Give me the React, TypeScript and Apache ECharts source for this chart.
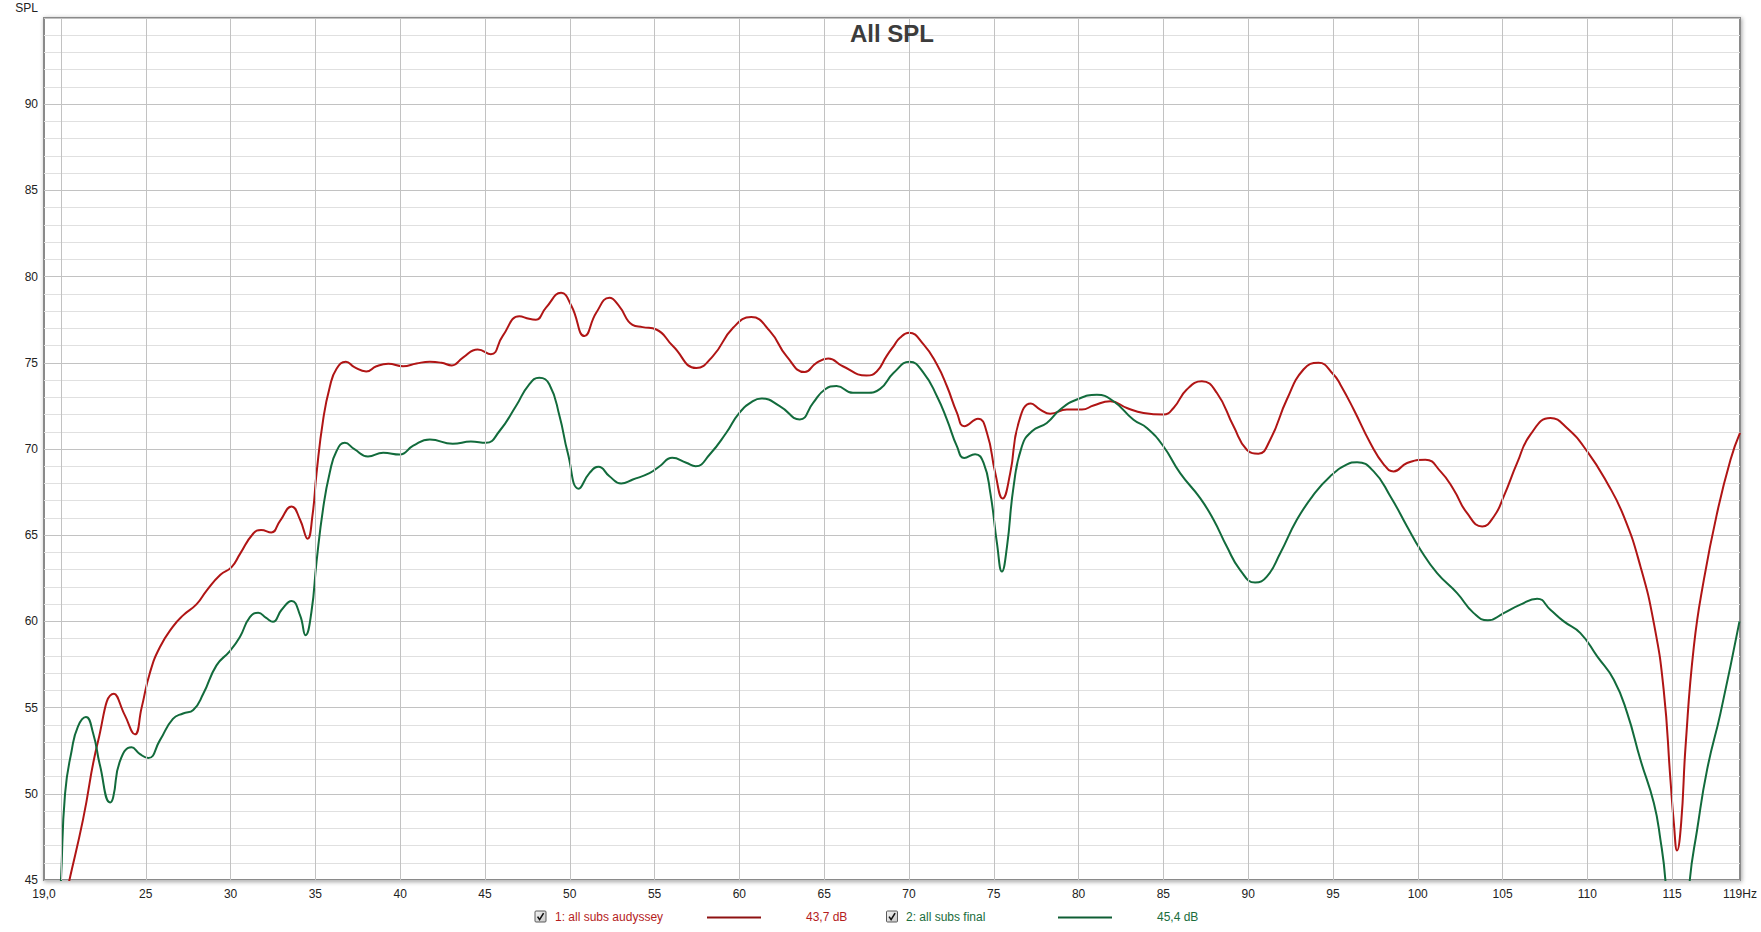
import React, { useEffect, useRef } from "react";
import * as echarts from "echarts";

// ---------- data ----------
const chartTitle = "All SPL";
const yAxisName = "SPL";
const xLabelValues = [19, 25, 30, 35, 40, 45, 50, 55, 60, 65, 70, 75, 80, 85, 90, 95, 100, 105, 110, 115, 119];
const xGridValues = [20, 25, 30, 35, 40, 45, 50, 55, 60, 65, 70, 75, 80, 85, 90, 95, 100, 105, 110, 115];

const seriesNames = ["1: all subs audyssey", "2: all subs final"];
const seriesLevels = ["43,7 dB", "45,4 dB"];

const redHz = [
  19.5, 20.0, 20.5, 21.3, 22.2, 23.12, 23.77, 24.36, 24.75, 25.25, 25.83, 26.6, 27.2, 28.0, 28.6, 29.4,
  30.06, 30.55, 31.34, 31.8, 32.4, 32.9, 33.6, 34.1, 34.54, 34.83, 35.07, 35.46, 35.85, 36.25, 36.8, 37.3,
  38.0, 38.6, 39.3, 40.17, 40.96, 41.75, 42.44, 43.05, 43.7, 44.57, 45.35, 46.04, 47.03, 47.6, 48.0, 48.6,
  49.49, 50.1, 50.87, 51.56, 52.34, 52.9, 53.7, 54.3, 55.1, 56.08, 57.46, 58.44, 59.63, 60.7, 61.8, 62.78,
  63.86, 64.55, 65.24, 66.1, 67.5, 68.1, 68.68, 69.1, 69.47, 70.0, 70.86, 71.65, 72.24, 72.83, 73.26, 74.07,
  74.6, 75.09, 75.52, 75.97, 76.46, 77.19, 77.74, 78.33, 79.31, 80.2, 80.88, 81.87, 82.85, 83.83, 85.0, 85.6,
  86.38, 87.27, 88.15, 89.14, 89.92, 90.6, 91.3, 92.28, 93.26, 94.15, 95.03, 95.44, 96.23, 97.2, 98.0, 98.58,
  99.37, 100.45, 101.34, 102.12, 102.9, 103.8, 104.5, 105.07, 105.86, 106.64, 107.82, 108.8, 109.99, 111.17,
  112.15, 113.13, 113.92, 114.5, 114.9, 115.1, 115.29, 115.53, 115.79, 116.28, 116.87, 117.65, 118.44, 119.0,
];
const redDb = [
  41.0, 42.8, 45.0, 48.5, 53.1, 55.8, 54.55, 53.45, 54.97, 57.04, 58.5, 59.7, 60.35, 61.0, 61.8, 62.7,
  63.15, 63.9, 65.1, 65.3, 65.16, 65.8, 66.67, 65.9, 64.8, 66.15, 68.6, 71.7, 73.6, 74.65, 75.06, 74.75,
  74.5, 74.8, 74.94, 74.8, 74.96, 75.06, 75.0, 74.85, 75.3, 75.77, 75.5, 76.55, 77.7, 77.55, 77.5, 78.2,
  79.06, 78.3, 76.55, 77.9, 78.77, 78.3, 77.2, 77.07, 76.93, 75.97, 74.7, 75.39, 77.03, 77.65, 76.84, 75.39,
  74.46, 75.0, 75.25, 74.8, 74.26, 74.5, 75.39, 75.97, 76.45, 76.74, 76.07, 74.9, 73.64, 72.1, 71.32, 71.76,
  70.93, 68.6, 67.13, 68.6, 71.51, 72.64, 72.29, 72.05, 72.29, 72.29, 72.52, 72.77, 72.38, 72.09, 72.0, 72.38,
  73.45, 73.93, 73.26, 71.32, 69.96, 69.73, 70.54, 72.87, 74.61, 75.0, 74.32, 73.73, 72.28, 70.35, 69.1, 68.7,
  69.19, 69.38, 68.7, 67.64, 66.29, 65.51, 66.1, 67.25, 69.19, 70.83, 71.8, 71.22, 69.86, 68.03,
  66.09, 63.19, 59.9, 56.03, 50.8, 48.3, 46.71, 48.3, 52.75, 58.55, 62.42, 66.29, 69.38, 70.93,
];

const greenHz = [
  19.8, 20.0, 20.24, 20.63, 21.0, 21.47, 21.9, 22.3, 22.9, 23.08, 23.48, 24.16, 24.66, 25.15, 25.83, 26.6,
  27.2, 27.8, 28.39, 29.17, 29.96, 30.55, 31.14, 31.63, 32.1, 32.5, 33.0, 33.6, 34.1, 34.42, 34.77, 35.07,
  35.46, 35.85, 36.25, 36.74, 37.3, 38.1, 39.0, 39.98, 40.77, 41.75, 43.1, 44.17, 45.06, 45.85, 46.83, 47.6,
  48.2, 48.8, 49.4, 49.88, 50.53, 51.16, 51.7, 52.34, 53.03, 53.72, 54.7, 55.3, 56.04, 56.87, 57.42, 58.25,
  59.23, 60.0, 60.8, 61.3, 62.38, 63.56, 64.35, 65.04, 65.73, 66.7, 67.5, 68.3, 69.1, 70.04, 70.86, 71.65,
  72.24, 72.83, 73.26, 73.9, 74.4, 74.8, 75.19, 75.48, 75.78, 76.17, 76.66, 77.25, 78.13, 78.92, 79.9, 81.08,
  82.06, 83.24, 84.03, 85.0, 85.99, 87.17, 87.96, 88.74, 89.53, 90.41, 91.1, 91.89, 92.87, 93.85, 94.83, 95.8,
  96.42, 97.4, 98.39, 99.37, 100.16, 101.14, 102.32, 103.3, 104.13, 105.07, 106.05, 107.04, 107.82, 108.61,
  109.59, 110.58, 111.56, 112.35, 113.13, 113.92, 114.31, 114.6, 114.9, 115.3, 115.7, 116.04, 116.47, 117.06,
  117.85, 118.97,
];
const greenDb = [
  41.5, 45.0, 50.0, 52.5, 53.9, 54.45, 53.5, 51.65, 49.5, 49.8, 51.9, 52.7, 52.3, 52.07, 53.1, 54.35,
  54.66, 54.86, 55.8, 57.45, 58.28, 59.1, 60.25, 60.5, 60.2, 59.98, 60.66, 61.18, 60.35, 59.2, 60.56, 63.46,
  66.57, 68.64, 69.88, 70.36, 69.99, 69.57, 69.78, 69.68, 70.19, 70.55, 70.3, 70.43, 70.36, 71.03, 72.49, 73.74,
  74.13, 73.74, 71.9, 69.78, 67.7, 68.6, 68.97, 68.42, 68.0, 68.23, 68.6, 69.0, 69.49, 69.2, 69.0, 69.68,
  70.94, 72.1, 72.78, 72.93, 72.49, 71.71, 72.68, 73.45, 73.65, 73.26, 73.26, 73.49, 74.42, 75.06, 74.42, 73.06,
  71.7, 70.15, 69.48, 69.7, 69.19, 67.44, 64.53, 62.89, 64.34, 67.83, 70.16, 71.03, 71.51, 72.29, 72.87, 73.14,
  72.77, 71.7, 71.22, 70.16, 68.6, 67.15, 65.89, 64.34, 62.98, 62.25, 62.6, 63.95, 65.89, 67.34, 68.41, 69.09,
  69.23, 68.7, 67.25, 65.51, 64.16, 62.8, 61.64, 60.48, 60.06, 60.48, 60.97, 61.32, 60.68, 60.0,
  59.32, 57.97, 56.62, 54.68, 51.97, 49.46, 47.33, 45.0, 40.0, 36.0, 40.0, 45.0, 47.9, 51.4,
  54.68, 60.0,
];

const seriesColors = ["#b01515", "#126b3c"];
const legendLineColors = ["#8e1212", "#0f5e34"];
const legendTextColors = ["#b51d1d", "#1a6d3c"];

const FONT = '"Liberation Sans", Arial, Helvetica, sans-serif';

function pairs(xs: number[], ys: number[]) {
  return xs.map((x, i) => [x, ys[i]]);
}

function checkbox(x: number, y: number) {
  return [
    {
      type: "rect",
      shape: { x, y, width: 11, height: 11, r: 1 },
      style: {
        fill: new echarts.graphic.LinearGradient(0, 0, 1, 1, [
          { offset: 0, color: "#f4f4f4" },
          { offset: 1, color: "#c8c8c8" },
        ]),
        stroke: "#5a5a5a",
        lineWidth: 1,
      },
    },
    {
      type: "polyline",
      shape: { points: [[x + 2.6, y + 5.6], [x + 4.6, y + 8.6], [x + 8.6, y + 2.2]] },
      style: { stroke: "#111", lineWidth: 1.6, fill: "none" },
    },
  ];
}

export default function App() {
  const ref = useRef<HTMLDivElement>(null);

  useEffect(() => {
    document.body.style.margin = "0";
    if (!ref.current) return;
    const chart = echarts.init(ref.current, null, { renderer: "svg" });

    const legendY = 917;
    const legendItems = [
      { box: 535, text: 555, line0: 707, line1: 761, level: 806 },
      { box: 886.5, text: 906, line0: 1058, line1: 1112, level: 1157 },
    ];
    const legendGraphics: any[] = [];
    legendItems.forEach((it, i) => {
      legendGraphics.push(...checkbox(it.box, legendY - 6));
      legendGraphics.push({
        type: "text",
        x: it.text,
        y: legendY,
        style: { text: seriesNames[i], fill: legendTextColors[i], font: `12px ${FONT}`, verticalAlign: "middle" },
      });
      legendGraphics.push({
        type: "line",
        shape: { x1: it.line0, y1: legendY + 0.5, x2: it.line1, y2: legendY + 0.5 },
        style: { stroke: legendLineColors[i], lineWidth: 2 },
      });
      legendGraphics.push({
        type: "text",
        x: it.level,
        y: legendY,
        style: { text: seriesLevels[i], fill: legendTextColors[i], font: `12px ${FONT}`, verticalAlign: "middle" },
      });
    });

    const option: any = {
      animation: false,
      backgroundColor: "#ffffff",
      grid: {
        left: 44,
        right: 21,
        top: 18,
        bottom: 52,
        show: true,
        backgroundColor: "#ffffff",
        borderColor: "#8a8a8a",
        borderWidth: 2,
        shadowColor: "rgba(0,0,0,0.35)",
        shadowBlur: 4,
        shadowOffsetX: 1,
        shadowOffsetY: 1,
      },
      xAxis: {
        type: "value",
        min: 19,
        max: 119,
        axisLine: { show: false },
        axisTick: { show: false },
        splitLine: { show: false },
        axisLabel: {
          customValues: xLabelValues,
          margin: 8,
          fontSize: 12,
          color: "#222",
          fontFamily: FONT,
          formatter: (v: number) => (v === 19 ? "19,0" : v === 119 ? "119Hz" : String(v)),
        },
      },
      yAxis: {
        type: "value",
        min: 45,
        max: 95,
        interval: 5,
        axisLine: { show: false },
        axisTick: { show: false },
        axisLabel: { showMaxLabel: false, margin: 6, fontSize: 12, color: "#222", fontFamily: FONT },
        splitLine: { show: true, lineStyle: { color: "#c2c2c2", width: 1 } },
        minorTick: { show: false, splitNumber: 5 },
        minorSplitLine: { show: true, lineStyle: { color: "#e0e0e0", width: 1 } },
      },
      graphic: [
        {
          type: "text",
          x: 892,
          y: 33,
          z: 100,
          style: {
            text: chartTitle,
            fill: "#3c3c3c",
            font: `bold 24px ${FONT}`,
            textAlign: "center",
            verticalAlign: "middle",
          },
        },
        {
          type: "text",
          x: 38,
          y: 8,
          style: { text: yAxisName, fill: "#222", font: `12px ${FONT}`, textAlign: "right", verticalAlign: "middle" },
        },
        ...legendGraphics,
      ],
      series: [
        {
          type: "line",
          name: "grid",
          data: [],
          silent: true,
          z: 1,
          markLine: {
            silent: true,
            symbol: ["none", "none"],
            label: { show: false },
            lineStyle: { color: "#c2c2c2", type: "solid", width: 1 },
            data: xGridValues.map((v) => ({ xAxis: v })),
          },
        },
        {
          type: "line",
          name: seriesNames[0],
          data: pairs(redHz, redDb),
          smooth: 0.5,
          showSymbol: false,
          clip: true,
          z: 3,
          lineStyle: { color: seriesColors[0], width: 2 },
          itemStyle: { color: seriesColors[0] },
        },
        {
          type: "line",
          name: seriesNames[1],
          data: pairs(greenHz, greenDb),
          smooth: 0.5,
          showSymbol: false,
          clip: true,
          z: 3,
          lineStyle: { color: seriesColors[1], width: 2 },
          itemStyle: { color: seriesColors[1] },
        },
      ],
    };

    chart.setOption(option);
    return () => chart.dispose();
  }, []);

  return <div ref={ref} style={{ width: 1761, height: 932 }} />;
}
